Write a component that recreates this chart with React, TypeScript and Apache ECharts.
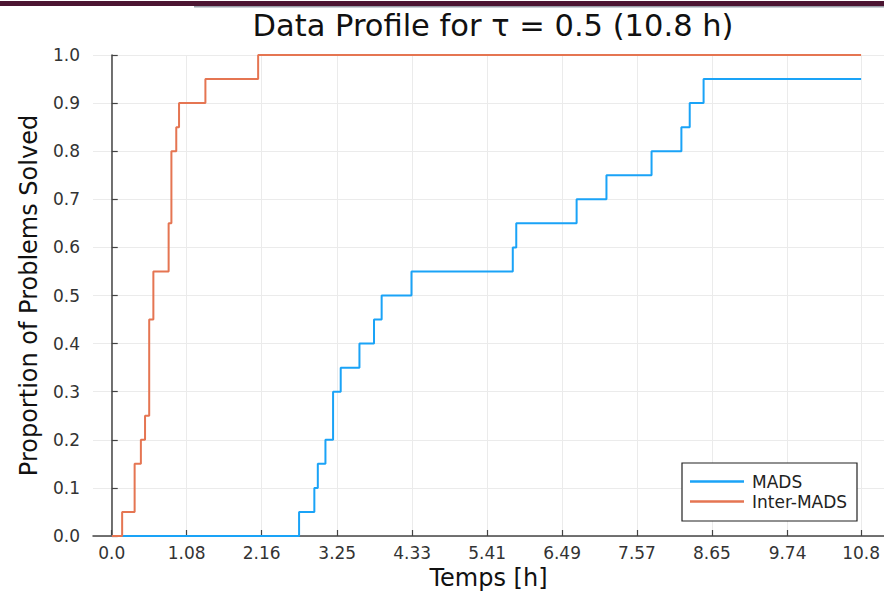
import React, { useEffect, useRef } from "react";
import * as echarts from "echarts";

const MADS_T = [0, 2.7, 2.92, 2.97, 3.08, 3.19, 3.3, 3.57, 3.78, 3.89, 4.32, 5.78, 5.83, 6.7, 7.13, 7.78, 8.21, 8.33, 8.53, 10.8];
const MADS_P = [0, 0.05, 0.1, 0.15, 0.2, 0.3, 0.35, 0.4, 0.45, 0.5, 0.55, 0.6, 0.65, 0.7, 0.75, 0.8, 0.85, 0.9, 0.95, 0.95];
const INTER_T = [0, 0.15, 0.33, 0.42, 0.48, 0.54, 0.6, 0.82, 0.86, 0.93, 0.97, 1.35, 2.11, 10.8];
const INTER_P = [0, 0.05, 0.15, 0.2, 0.25, 0.45, 0.55, 0.65, 0.8, 0.85, 0.9, 0.95, 1.0, 1.0];
const X_TICKS = [0, 1.08, 2.16, 3.25, 4.33, 5.41, 6.49, 7.57, 8.65, 9.74, 10.8];
const X_TICK_LABELS = ["0.0", "1.08", "2.16", "3.25", "4.33", "5.41", "6.49", "7.57", "8.65", "9.74", "10.8"];
const SERIES_NAMES = ["MADS", "Inter-MADS"];

export default function App() {
  const ref = useRef<HTMLDivElement>(null);
  useEffect(() => {
    const chart = echarts.init(ref.current!, null, { renderer: "svg" });
    const font = "'DejaVu Sans', sans-serif";
    const pairs = (t: number[], p: number[]) => t.map((v, i) => [v, p[i]]);
    const axisColor = "#444";
    chart.setOption({
      animation: false,
      backgroundColor: "#fff",
      textStyle: { fontFamily: font },
      title: {
        text: "Data Profile for τ = 0.5 (10.8 h)",
        left: 488,
        top: 5,
        textAlign: "center",
        textStyle: { fontFamily: font, fontSize: 30.5, fontWeight: "normal", color: "#111" },
      },
      grid: { left: 93, right: 0, top: 55, bottom: 58, containLabel: false },
      xAxis: {
        type: "value",
        min: -0.27,
        max: 11.13,
        name: "Temps [h]",
        nameLocation: "middle",
        nameGap: 30,
        nameTextStyle: { fontFamily: font, fontSize: 24, color: "#111" },
        axisLine: { show: true, onZero: false, lineStyle: { color: axisColor, width: 1.5 } },
        axisTick: { show: true, inside: true, length: 6, customValues: X_TICKS, lineStyle: { color: axisColor, width: 1.2 } },
        axisLabel: {
          customValues: X_TICKS,
          margin: 8,
          fontFamily: font,
          fontSize: 17,
          color: "#333",
          formatter: (v: number) => {
            const i = X_TICKS.findIndex((t) => Math.abs(t - v) < 1e-6);
            return i >= 0 ? X_TICK_LABELS[i] : "";
          },
        },
        splitLine: { show: true, lineStyle: { color: "#ebebeb", width: 1 } },
      },
      yAxis: {
        type: "value",
        min: 0,
        max: 1,
        interval: 0.1,
        name: "Proportion of Problems Solved",
        nameLocation: "middle",
        nameGap: 52,
        nameTextStyle: { fontFamily: font, fontSize: 24, color: "#111" },
        axisLine: { show: true, lineStyle: { color: axisColor, width: 1.5 } },
        axisTick: { show: true, inside: true, length: 6, lineStyle: { color: axisColor, width: 1.2 } },
        axisLabel: {
          margin: 13,
          fontFamily: font,
          fontSize: 17,
          color: "#333",
          formatter: (v: number) => v.toFixed(1),
        },
        splitLine: { show: true, lineStyle: { color: "#ebebeb", width: 1 } },
      },
      legend: {
        data: SERIES_NAMES,
        orient: "vertical",
        left: 690,
        top: 473,
        z: 10,
        icon: "rect",
        itemWidth: 54,
        itemHeight: 2.5,
        itemGap: 3,
        padding: 0,
        textStyle: { fontFamily: font, fontSize: 17, color: "#222", lineHeight: 17, padding: [0, 0, 0, 3] },
      },
      graphic: [
        { type: "rect", z: 0, shape: { x: 0, y: 1, width: 884, height: 5 }, style: { fill: "#4c1532" } },
        { type: "rect", z: 0, shape: { x: 194, y: 6, width: 690, height: 1.5 }, style: { fill: "#9aa0aa" } },
        { type: "rect", z: 5, shape: { x: 682, y: 463, width: 175, height: 58 }, style: { fill: "#fff", stroke: "#222", lineWidth: 1.2 } },
      ],
      series: [
        {
          name: SERIES_NAMES[0],
          type: "line",
          step: "end",
          data: pairs(MADS_T, MADS_P),
          showSymbol: false,
          symbol: "none",
          lineStyle: { color: "#1aa3f7", width: 2 },
          itemStyle: { color: "#1aa3f7" },
          z: 2,
        },
        {
          name: SERIES_NAMES[1],
          type: "line",
          step: "end",
          data: pairs(INTER_T, INTER_P),
          showSymbol: false,
          symbol: "none",
          lineStyle: { color: "#E57552", width: 2 },
          itemStyle: { color: "#E57552" },
          z: 3,
        },
      ],
    });
    return () => chart.dispose();
  }, []);
  return <div ref={ref} style={{ position: "fixed", left: 0, top: 0, width: 884, height: 595, background: "#fff" }} />;
}
